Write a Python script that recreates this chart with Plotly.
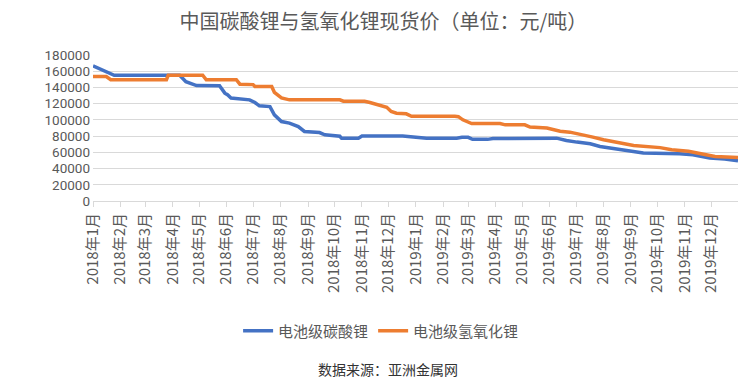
import plotly.graph_objects as go

# ---- data ----
carbonate_dates = [
    "2018-01-01", "2018-01-12", "2018-01-18", "2018-01-25", "2018-04-09", "2018-04-16",
    "2018-04-28", "2018-05-24", "2018-05-30", "2018-06-02", "2018-06-06", "2018-06-27",
    "2018-07-03", "2018-07-08", "2018-07-20", "2018-07-25", "2018-08-02", "2018-08-11",
    "2018-08-21", "2018-08-28", "2018-09-14", "2018-09-20", "2018-10-07", "2018-10-09",
    "2018-10-28", "2018-11-01", "2018-12-17", "2019-01-05", "2019-01-13", "2019-02-16",
    "2019-02-22", "2019-03-01", "2019-03-06", "2019-03-23", "2019-03-29", "2019-06-09",
    "2019-06-20", "2019-07-02", "2019-07-17", "2019-07-28", "2019-08-14", "2019-08-29",
    "2019-09-15", "2019-10-26", "2019-11-10", "2019-11-29", "2019-12-16", "2019-12-31",
]
carbonate_prices = [
    166500, 161600, 158800, 155000, 155000, 147000,
    142300, 142000, 133000, 131000, 127000, 124700,
    121400, 117300, 116400, 106200, 98000, 96000,
    91800, 85700, 84400, 81600, 79800, 77300,
    77300, 80000, 80000, 78800, 77300, 77300,
    78500, 78500, 76000, 76000, 77000, 77500,
    74600, 72600, 70500, 67200, 64400, 61100,
    59100, 58200, 57000, 52900, 51700, 49500,
]

hydroxide_dates = [
    "2018-01-01", "2018-01-16", "2018-01-21", "2018-03-25", "2018-03-27", "2018-05-05",
    "2018-05-09", "2018-06-12", "2018-06-16", "2018-07-01", "2018-07-03", "2018-07-22",
    "2018-07-25", "2018-08-02", "2018-08-11", "2018-10-07", "2018-10-11", "2018-11-04",
    "2018-11-10", "2018-11-23", "2018-11-29", "2018-12-04", "2018-12-10", "2018-12-21",
    "2018-12-27", "2019-02-14", "2019-02-18", "2019-02-23", "2019-03-05", "2019-04-06",
    "2019-04-12", "2019-05-04", "2019-05-10", "2019-05-29", "2019-06-13", "2019-06-24",
    "2019-07-05", "2019-07-20", "2019-08-01", "2019-08-14", "2019-09-04", "2019-10-04",
    "2019-10-17", "2019-11-05", "2019-11-20", "2019-12-05", "2019-12-31",
]
hydroxide_prices = [
    153500, 153500, 149500, 149500, 155000, 155000,
    149500, 149500, 144000, 143500, 141100, 141100,
    134000, 127000, 124700, 124700, 123000, 123000,
    121500, 118000, 115500, 110300, 108300, 107500,
    104500, 104500, 104000, 100100, 95500, 95500,
    93900, 93900, 91100, 89900, 86000, 84900,
    82500, 78800, 75500, 72500, 68500, 65800,
    63200, 61300, 58200, 55000, 53700,
]

series_names = ["电池级碳酸锂", "电池级氢氧化锂"]
month_ticks = [f"{y}-{m:02d}-01" for y in (2018, 2019) for m in range(1, 13)]
month_labels = [f"{y}年{m}月" for y in (2018, 2019) for m in range(1, 13)]
y_ticks = list(range(0, 180001, 20000))

title_text = "中国碳酸锂与氢氧化锂现货价（单位：元/吨）"
source_text = "数据来源：亚洲金属网"

FONT = "Noto Sans CJK SC, Microsoft YaHei, sans-serif"
GREY = "#595959"

fig = go.Figure()
fig.add_trace(go.Scatter(x=carbonate_dates, y=carbonate_prices, mode="lines",
                         name=series_names[0], line=dict(color="#4472C4", width=3.5)))
fig.add_trace(go.Scatter(x=hydroxide_dates, y=hydroxide_prices, mode="lines",
                         name=series_names[1], line=dict(color="#ED7D31", width=3.5)))

fig.update_layout(
    width=740, height=380,
    margin=dict(l=93, r=2, t=55, b=179),
    paper_bgcolor="white", plot_bgcolor="white",
    font=dict(family=FONT, color=GREY),
    title=dict(text=title_text, x=0.518, xref="container", xanchor="center",
               y=0.942, yref="container", yanchor="middle",
               font=dict(size=20, color=GREY, family=FONT)),
    showlegend=True,
    legend=dict(orientation="h", x=0.515, xref="container", xanchor="center",
                y=0.129, yref="container", yanchor="middle",
                font=dict(size=15, color=GREY), bgcolor="rgba(0,0,0,0)"),
    annotations=[dict(text=source_text, xref="paper", yref="paper",
                      x=(388 - 93) / 645, y=(201.3 - 370) / 146.3,
                      xanchor="center", yanchor="middle", showarrow=False,
                      font=dict(size=14, color="#333333", family=FONT))],
)

fig.update_xaxes(
    type="date", range=["2018-01-01", "2019-12-31"],
    tickmode="array", tickvals=month_ticks, ticktext=month_labels,
    tickangle=-90, tickfont=dict(size=15, color=GREY),
    showline=True, linecolor="#d9d9d9", linewidth=1,
    ticks="outside", ticklen=5, tickcolor="#d9d9d9",
    showgrid=False, zeroline=False, automargin=False,
)
fig.update_yaxes(
    range=[0, 180000], tickmode="array", tickvals=y_ticks,
    ticktext=[str(v) for v in y_ticks],
    tickfont=dict(size=13.5, color=GREY, family="Roboto, Liberation Sans, sans-serif"),
    showgrid=True, gridcolor="#d9d9d9", gridwidth=1,
    zeroline=False, showline=False, ticks="", ticklabelstandoff=2, automargin=False,
)

fig.write_html("out.html", config={"displayModeBar": False},
               post_script="document.body.style.margin='0';")
